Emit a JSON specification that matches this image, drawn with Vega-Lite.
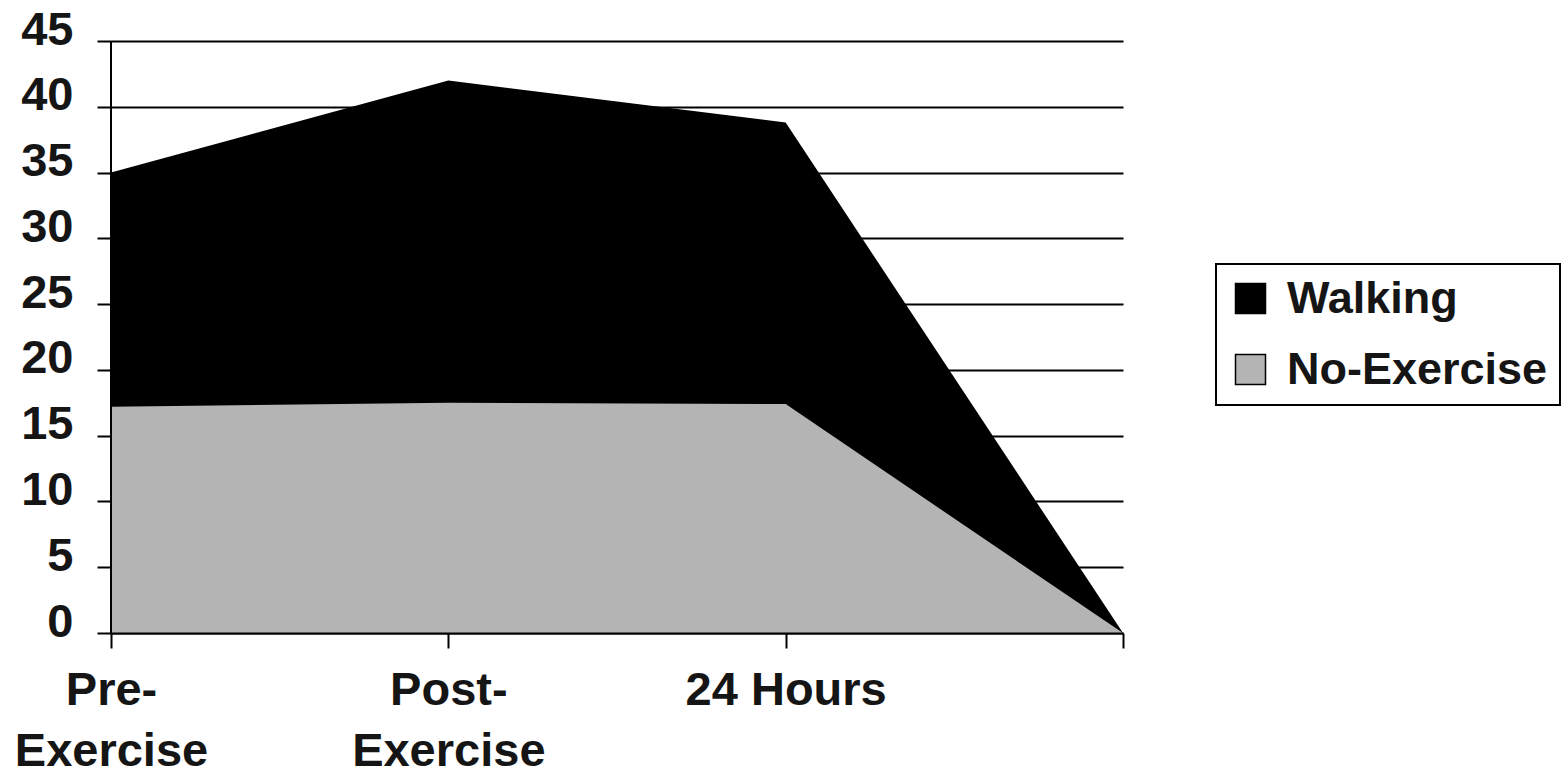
{
  "$schema": "https://vega.github.io/schema/vega-lite/v6.json",
  "width": 1012,
  "height": 592,
  "autosize": {"type": "none"},
  "padding": {"left": 111, "top": 41, "right": 439, "bottom": 141},
  "background": "white",
  "config": {"view": {"stroke": null}, "font": "Liberation Sans"},
  "data": {
    "values": [
      {"time": "Pre-Exercise", "group": "Walking", "value": 35},
      {"time": "Post-Exercise", "group": "Walking", "value": 42},
      {"time": "24 Hours", "group": "Walking", "value": 38.8},
      {"time": "end", "group": "Walking", "value": 0},
      {"time": "Pre-Exercise", "group": "No-Exercise", "value": 17.2},
      {"time": "Post-Exercise", "group": "No-Exercise", "value": 17.5},
      {"time": "24 Hours", "group": "No-Exercise", "value": 17.4},
      {"time": "end", "group": "No-Exercise", "value": 0}
    ]
  },
  "encoding": {
    "x": {
      "field": "time",
      "type": "ordinal",
      "sort": ["Pre-Exercise", "Post-Exercise", "24 Hours", "end"],
      "scale": {"type": "point", "padding": 0},
      "axis": {
        "title": null,
        "labelAngle": 0,
        "labelExpr": "datum.value == 'Pre-Exercise' ? ['Pre-', 'Exercise'] : datum.value == 'Post-Exercise' ? ['Post-', 'Exercise'] : datum.value == 'end' ? '' : datum.value",
        "labelFont": "Liberation Sans",
        "labelFontSize": 47,
        "labelFontWeight": "bold",
        "labelColor": "#151515",
        "labelBaseline": "top",
        "labelLineHeight": 61,
        "labelPadding": 19,
        "labelLimit": 500,
        "labelOverlap": false,
        "labelBound": false,
        "domainColor": "black",
        "domainWidth": 2,
        "tickColor": "black",
        "tickWidth": 2,
        "tickSize": 15,
        "grid": false,
        "zindex": 1
      }
    },
    "y": {
      "field": "value",
      "type": "quantitative",
      "stack": null,
      "scale": {"domain": [0, 45], "nice": false},
      "axis": {
        "title": null,
        "values": [0, 5, 10, 15, 20, 25, 30, 35, 40, 45],
        "labelFont": "Liberation Sans",
        "labelFontSize": 47,
        "labelFontWeight": "bold",
        "labelColor": "#151515",
        "labelBaseline": "alphabetic",
        "labelOffset": 3,
        "labelPadding": 24,
        "labelBound": false,
        "labelOverlap": false,
        "domain": false,
        "tickColor": "black",
        "tickWidth": 2,
        "tickSize": 14,
        "grid": true,
        "gridColor": "black",
        "gridWidth": 2,
        "gridOpacity": 1,
        "zindex": 0
      }
    }
  },
  "layer": [
    {
      "transform": [{"filter": "datum.group == 'Walking'"}],
      "mark": {"type": "area", "opacity": 1},
      "encoding": {
        "color": {
          "field": "group",
          "type": "nominal",
          "scale": {"domain": ["Walking", "No-Exercise"], "range": ["#000000", "#b4b4b4"]},
          "legend": {
            "title": null,
            "orient": "none",
            "legendX": 1105,
            "legendY": 223,
            "symbolType": "square",
            "symbolSize": 900,
            "symbolStrokeColor": "black",
            "symbolStrokeWidth": 1.5,
            "symbolOpacity": 1,
            "labelFont": "Liberation Sans",
            "labelFontSize": 45,
            "labelFontWeight": "bold",
            "labelColor": "#151515",
            "labelOffset": 14,
            "labelLimit": 400,
            "rowPadding": 25,
            "padding": 12,
            "strokeColor": "black",
            "fillColor": "white",
            "encode": {"legend": {"update": {"strokeWidth": {"value": 2}}}}
          }
        }
      }
    },
    {
      "transform": [{"filter": "datum.group == 'No-Exercise'"}],
      "mark": {"type": "area", "opacity": 1},
      "encoding": {
        "color": {"field": "group", "type": "nominal"}
      }
    },
    {
      "mark": {"type": "rule", "color": "black", "strokeWidth": 2},
      "encoding": {
        "x": {"datum": "Pre-Exercise"},
        "y": {"datum": 0},
        "y2": {"datum": 45}
      }
    }
  ]
}
